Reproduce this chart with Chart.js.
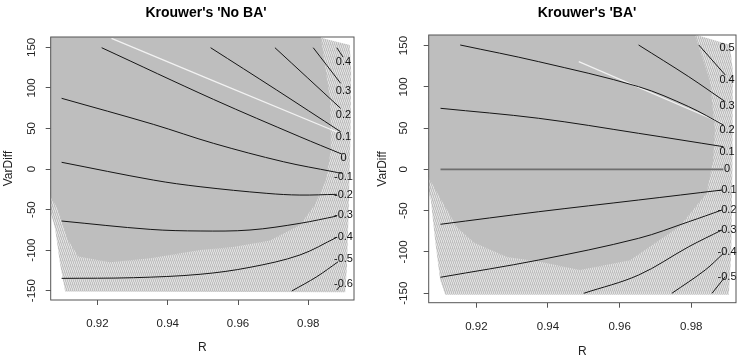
<!DOCTYPE html>
<html>
<head>
<meta charset="utf-8">
<script src="https://cdn.jsdelivr.net/npm/chart.js@4.4.1/dist/chart.umd.min.js"></script>
<style>
  html, body { margin: 0; padding: 0; background: #fff; }
  #wrap { position: relative; width: 743px; height: 359px; }
  canvas { position: absolute; top: 0; }
  #noBa { left: 0; }
  #ba { left: 372px; }
</style>
</head>
<body>
<div id="wrap">
  <canvas id="noBa" width="372" height="359"></canvas>
  <canvas id="ba" width="371" height="359"></canvas>
</div>
<script>
var FONT = '"Liberation Sans", Arial, Helvetica, sans-serif';

var xTicks = [0.92, 0.94, 0.96, 0.98];
var yTicks = [-150, -100, -50, 0, 50, 100, 150];

// ---- Krouwer's 'No BA' ----
var noBaLevels = ["0.4", "0.3", "0.2", "0.1", "0", "-0.1", "-0.2", "-0.3", "-0.4", "-0.5", "-0.6"];
var noBaLineX = [
  [0.9881, 0.9899],
  [0.9814, 0.9892],
  [0.9705, 0.9892],
  [0.9522, 0.9710, 0.9892],
  [0.9212, 0.9530, 0.9776, 0.9895],
  [0.9098, 0.9359, 0.9530, 0.9729, 0.9871, 0.9895],
  [0.9098, 0.9359, 0.9492, 0.9682, 0.9776, 0.9881],
  [0.9098, 0.9350, 0.9492, 0.9634, 0.9776, 0.9881],
  [0.9098, 0.9302, 0.9492, 0.9634, 0.9776, 0.9881],
  [0.9753, 0.9824, 0.9885],
  [0.9881, 0.9890]
];
var noBaLineY = [
  [149.6, 138],
  [149.6, 105.7],
  [149.6, 74.8],
  [149.6, 97.4, 46.0],
  [149.6, 85.9, 39.8, 18.5],
  [87.2, 55.1, 31.7, 9.0, -3.3, -5.3],
  [8.3, -13.6, -21.8, -30.0, -32.1, -31.2],
  [-64.1, -74.4, -76.4, -75.2, -67.0, -58.0],
  [-134.8, -134.0, -129.8, -121.2, -106.0, -84.2],
  [-150.4, -132.8, -114.3],
  [-149.2, -144.3]
];
var noBaLabelX = 0.9900;
var noBaLabelY = [132, 96.5, 66.6, 39.5, 13.9, -9.9, -32.1, -56.7, -83.8, -111, -141.8];
// gray cloud outline (outer hatch and solid core)
var noBaOuterX = [0.905, 0.9760, 0.9918, 0.9922, 0.9920, 0.9915, 0.9910, 0.9905, 0.9108, 0.9094, 0.9080, 0.905];
var noBaOuterY = [170, 170, 153, 120, 40, -50, -120, -152, -151, -118, -75, -24];
var noBaSolidX = [0.905, 0.9833, 0.9862, 0.9864, 0.9850, 0.9819, 0.9776, 0.9691, 0.9586, 0.9492, 0.9350, 0.9236, 0.9146, 0.9117, 0.9088, 0.905];
var noBaSolidY = [170, 170, 85, 23, -14, -44, -69, -88, -96, -100, -110, -115, -108, -88, -50, -22];
var noBaStreakX = [0.9240, 0.9530, 0.9890];
var noBaStreakY = [161.2, 108.8, 44.1];

// ---- Krouwer's 'BA' ----
var baLevels = ["0.5", "0.4", "0.3", "0.2", "0.1", "0", "-0.1", "-0.2", "-0.3", "-0.4", "-0.5"];
var baLineX = [
  [],
  [0.9821, 0.9895],
  [0.9653, 0.9793, 0.9895],
  [0.9155, 0.9374, 0.9653, 0.9793, 0.9890],
  [0.9100, 0.9374, 0.9653, 0.9890],
  [0.9100, 0.9890],
  [0.9100, 0.9374, 0.9653, 0.9886],
  [0.9100, 0.9374, 0.9653, 0.9793, 0.9886],
  [0.9500, 0.9653, 0.9793, 0.9886],
  [0.9746, 0.9839, 0.9890],
  [0.9858, 0.9895]
];
var baLineY = [
  [],
  [150.7, 114.4],
  [150.7, 112.3, 82.0],
  [150.7, 130.5, 100.2, 76.0, 53.8],
  [74.0, 61.9, 43.7, 27.5],
  [0, 0],
  [-66.5, -51.3, -37.1, -25.0],
  [-130.7, -109.8, -83.5, -63.4, -49.2],
  [-150.1, -128.0, -93.7, -73.4],
  [-150.1, -121.9, -101.7],
  [-150.1, -130.0]
];
var baLabelX = 0.9900;
var baLabelY = [146.7, 108.3, 76.8, 47.7, 21.4, 0, -25, -49.2, -73.4, -99.7, -130];
var baOuterX = [0.905, 0.9758, 0.9908, 0.9916, 0.9915, 0.9912, 0.9905, 0.9113, 0.9099, 0.9085, 0.9073, 0.905];
var baOuterY = [170, 170, 151, 120, 0, -100, -152, -152, -134, -86, -37, -1];
var baSolidX = [0.905, 0.9805, 0.9852, 0.9866, 0.9861, 0.9843, 0.9768, 0.9629, 0.9489, 0.9378, 0.9286, 0.9194, 0.9146, 0.9102, 0.905];
var baSolidY = [170, 170, 108, 48, 11, -29, -69, -110, -122, -112, -106, -89, -70, -37, 3];
var baStreakX = [0.9486, 0.9886];
var baStreakY = [130.5, 55.9];

function makeHatch(ctx) {
  var c = document.createElement("canvas");
  c.width = 2; c.height = 6;
  var g = c.getContext("2d");
  g.fillStyle = "#fff";
  g.fillRect(0, 0, 2, 6);
  g.strokeStyle = "#bebebe";
  g.lineWidth = 1.4;
  for (var k = -1; k <= 1; k++) {
    g.beginPath();
    g.moveTo(k * 2, 0);
    g.lineTo(k * 2 + 2, 6);
    g.stroke();
  }
  return ctx.createPattern(c, "repeat");
}

function pathOf(chart, xs, ys) {
  var c = chart.ctx, sx = chart.scales.x, sy = chart.scales.y;
  c.beginPath();
  for (var i = 0; i < xs.length; i++) {
    var X = sx.getPixelForValue(xs[i]), Y = sy.getPixelForValue(ys[i]);
    if (i === 0) c.moveTo(X, Y); else c.lineTo(X, Y);
  }
}

function makePlugin(p) {
  return {
    id: "rPlot",
    beforeDatasetsDraw: function (chart) {
      var c = chart.ctx, a = chart.chartArea;
      c.save();
      c.beginPath();
      c.rect(a.left, a.top, a.right - a.left, a.bottom - a.top);
      c.clip();
      pathOf(chart, p.outerX, p.outerY);
      c.closePath();
      c.fillStyle = p.hatch;
      c.fill();
      pathOf(chart, p.solidX, p.solidY);
      c.closePath();
      c.fillStyle = "#bebebe";
      c.fill();
      pathOf(chart, p.streakX, p.streakY);
      c.strokeStyle = "rgba(255,255,255,0.8)";
      c.lineWidth = 1.3;
      c.stroke();
      c.restore();
    },
    afterDatasetsDraw: function (chart) {
      var c = chart.ctx, sx = chart.scales.x, sy = chart.scales.y;
      c.save();
      c.font = "11px " + FONT;
      c.fillStyle = "#111";
      c.textAlign = "center";
      c.textBaseline = "middle";
      for (var i = 0; i < p.levels.length; i++) {
        c.fillText(p.levels[i], sx.getPixelForValue(p.labelX), sy.getPixelForValue(p.labelY[i]));
      }
      c.restore();
    },
    afterDraw: function (chart) {
      var c = chart.ctx, a = chart.chartArea, sy = chart.scales.y;
      c.save();
      c.strokeStyle = "#555";
      c.lineWidth = 1;
      c.strokeRect(a.left, a.top, a.right - a.left, a.bottom - a.top);
      c.fillStyle = "#222";
      c.font = "11.5px " + FONT;
      c.textAlign = "center";
      c.textBaseline = "middle";
      yTicks.forEach(function (v) {
        c.save();
        c.translate(31.7, sy.getPixelForValue(v));
        c.rotate(-Math.PI / 2);
        c.fillText(String(v), 0, 0);
        c.restore();
      });
      c.font = "12px " + FONT;
      c.fillText("R", (a.left + a.right) / 2, p.rY);
      c.save();
      c.translate(p.varX, (a.top + a.bottom) / 2);
      c.rotate(-Math.PI / 2);
      c.fillText("VarDiff", 0, 0);
      c.restore();
      c.font = "bold 14px " + FONT;
      c.fillStyle = "#000";
      c.fillText(p.title, p.titleX, 13);
      c.restore();
    }
  };
}

function panel(id, p) {
  var ctx = document.getElementById(id).getContext("2d");
  p.hatch = makeHatch(ctx);
  var sets = [];
  for (var i = 0; i < p.lineX.length; i++) {
    var pts = [];
    for (var j = 0; j < p.lineX[i].length; j++) pts.push({ x: p.lineX[i][j], y: p.lineY[i][j] });
    var zero = p.levels[i] === "0" && p.grayZero;
    sets.push({
      label: p.levels[i],
      data: pts,
      showLine: true,
      borderColor: zero ? "#6e6e6e" : "#151515",
      borderWidth: zero ? 1.6 : 1,
      pointRadius: 0,
      tension: 0.35,
      fill: false
    });
  }
  return new Chart(ctx, {
    type: "scatter",
    data: { datasets: sets },
    options: {
      responsive: false,
      animation: false,
      events: [],
      layout: { padding: { top: p.top, right: p.right, left: 0, bottom: 0 } },
      plugins: { legend: { display: false }, tooltip: { enabled: false }, title: { display: false } },
      scales: {
        x: {
          type: "linear",
          min: p.xMin,
          max: p.xMax,
          afterFit: function (s) { s.height = p.xAxisH; },
          afterBuildTicks: function (s) { s.ticks = xTicks.map(function (v) { return { value: v }; }); },
          border: { display: false },
          grid: { drawOnChartArea: false, drawTicks: true, tickLength: 5, tickColor: "#555", tickWidth: 1 },
          ticks: { font: { family: FONT, size: 11.5 }, color: "#222", padding: 12, maxRotation: 0 }
        },
        y: {
          type: "linear",
          min: -161.5,
          max: 162.8,
          afterFit: function (s) { s.width = p.yAxisW; },
          afterBuildTicks: function (s) { s.ticks = yTicks.map(function (v) { return { value: v }; }); },
          border: { display: false },
          grid: { drawOnChartArea: false, drawTicks: true, tickLength: 5, tickColor: "#555", tickWidth: 1 },
          ticks: { display: false }
        }
      }
    },
    plugins: [makePlugin(p)]
  });
}

panel("noBa", {
  title: "Krouwer's 'No BA'", titleX: 206,
  levels: noBaLevels, lineX: noBaLineX, lineY: noBaLineY,
  labelX: noBaLabelX, labelY: noBaLabelY,
  outerX: noBaOuterX, outerY: noBaOuterY, solidX: noBaSolidX, solidY: noBaSolidY,
  streakX: noBaStreakX, streakY: noBaStreakY,
  grayZero: false,
  xMin: 0.9067, xMax: 0.9930,
  top: 37, right: 18, xAxisH: 59, yAxisW: 50.7,
  varX: 9, rY: 348
});

panel("ba", {
  title: "Krouwer's 'BA'", titleX: 215,
  levels: baLevels, lineX: baLineX, lineY: baLineY,
  labelX: baLabelX, labelY: baLabelY,
  outerX: baOuterX, outerY: baOuterY, solidX: baSolidX, solidY: baSolidY,
  streakX: baStreakX, streakY: baStreakY,
  grayZero: true,
  xMin: 0.9067, xMax: 0.9925,
  top: 35, right: 7, xAxisH: 56.3, yAxisW: 56.7,
  varX: 11, rY: 352
});
</script>
</body>
</html>
